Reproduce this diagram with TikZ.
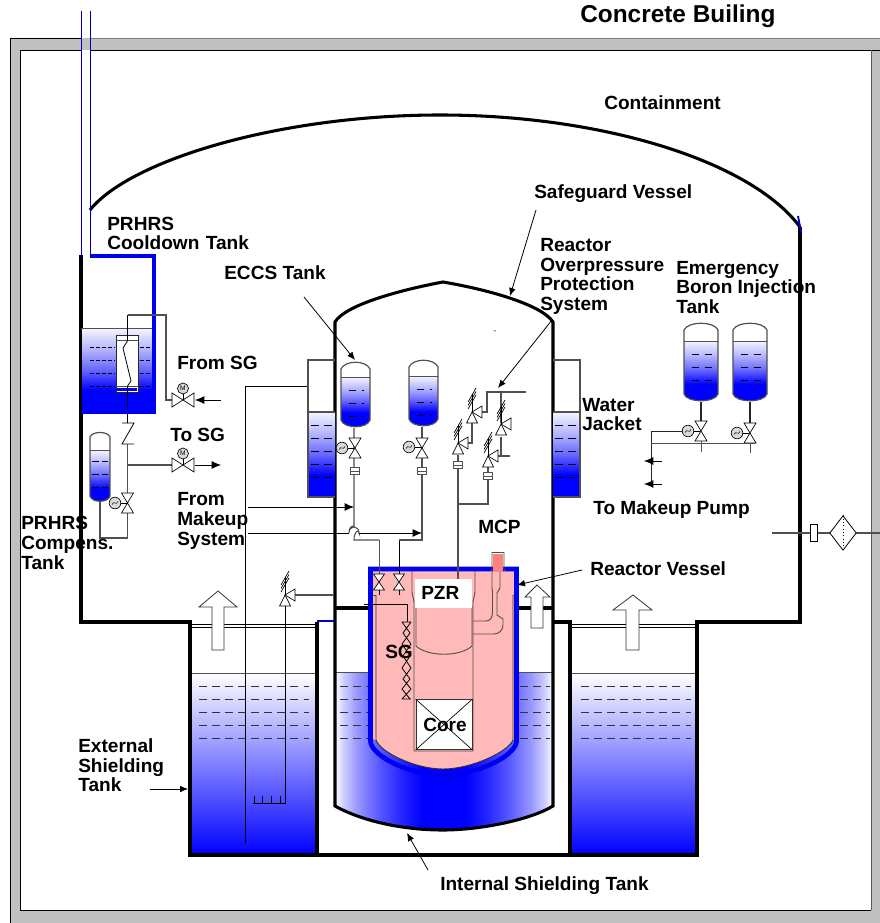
\documentclass[tikz,border=0pt]{standalone}
\usepackage{fontspec}
\setmainfont{Liberation Sans}
\usetikzlibrary{arrows.meta,shapes.geometric}
\definecolor{concrete}{HTML}{C0C0C0}
\definecolor{pinkcore}{HTML}{FFB9B9}
\definecolor{pumpred}{HTML}{FF8080}
\definecolor{linegray}{HTML}{505050}
\definecolor{pipeblue}{HTML}{0000F0}
\pgfdeclarehorizontalshading{poolwater}{100bp}{color(0bp)=(white); color(25bp)=(white); color(27bp)=(blue!20!white); color(30bp)=(blue!40!white); color(35bp)=(blue!65!white); color(40bp)=(blue!85!white); color(45bp)=(blue); color(55bp)=(blue); color(60bp)=(blue!85!white); color(65bp)=(blue!65!white); color(70bp)=(blue!40!white); color(73bp)=(blue!20!white); color(75bp)=(white); color(100bp)=(white)}
\pgfdeclareverticalshading{tankwater}{100bp}{color(0bp)=(blue); color(25bp)=(blue); color(38bp)=(blue); color(50bp)=(blue!60!white); color(62bp)=(blue!30!white); color(75bp)=(blue!4!white); color(100bp)=(white)}
\tikzset{
  wall/.style={line width=2.3pt,black},
  pipe/.style={line width=0.8pt,linegray},
  thin pipe/.style={line width=0.6pt,black},
  lbl/.style={font=\fontsize{14.3pt}{14.7pt}\selectfont\bfseries,anchor=west,inner sep=0pt,align=left},
  leader/.style={line width=0.6pt,-{Latex[length=6pt,width=5pt]}},
  flow/.style={line width=0.7pt,-{Latex[length=7pt,width=6pt]}},
  bigarrow/.style={draw=black!80,fill=white,line width=0.6pt},
  dashline/.style={line width=0.6pt,dash pattern=on 6pt off 3.8pt,black!80},
  vesselline/.style={line width=0.9pt,linegray},
  sym/.style={draw=black,fill=white,line width=0.5pt},
}
\tikzset{
  vvalvepic/.pic={
    \draw[sym] (-6,-10) -- (6,-10) -- (-6,10) -- (6,10) -- cycle;
  },
  smallvalvepic/.pic={
    \draw[sym] (-5.5,-8) -- (5.5,-8) -- (-5.5,8) -- (5.5,8) -- cycle;
    \draw[line width=0.5pt] (0,8) -- (0,13);
  },
  hvalvepic/.pic={
    \draw[sym] (-11,-7) -- (-11,7) -- (11,-7) -- (11,7) -- cycle;
    \draw[line width=0.5pt] (0,0) -- (0,-6);
    \draw[line width=0.5pt,fill=black!15] (0,-11.5) circle (5.5);
    \node[font=\fontsize{5pt}{5pt}\selectfont,inner sep=0pt] at (0,-11.5) {M};
  },
  actuatorpic/.pic={
    \draw[line width=0.5pt,fill=black!15] (0,0) circle (5.8);
    \draw[line width=0.4pt] (-3,1.5) .. controls (-1,-3) and (1,3) .. (3,-1.5);
    \draw[line width=0.5pt] (5.8,0) -- (12,0);
  },
  reliefpic/.pic={
    \draw[sym] (0,0) -- (-5.5,11) -- (5.5,11) -- cycle;
    \draw[sym] (0,0) -- (10,-6) -- (10,6) -- cycle;
    \draw[line width=0.5pt] (-4,-3) -- (4,-17) (-4,-6.5) -- (4,-20.5) (-4,-10) -- (4,-24);
    \draw[line width=0.5pt] (0,0) -- (0,-18);
  },
  flangepic/.pic={
    \draw[line width=0.6pt,fill=white,draw=linegray] (-4.5,-3.5) rectangle (4.5,3.5);
    \draw[line width=0.5pt,draw=linegray] (-4.5,0) -- (4.5,0);
  },
}
\newcommand{\storagetank}[5]{% xl xr ytop level ybot
  \begin{scope}
    \clip (#1,#3+8) .. controls (#1+4,#3-1) and (#2-4,#3-1) .. (#2,#3+8) -- (#2,#5-8) .. controls (#2-3,#5+1) and (#1+3,#5+1) .. (#1,#5-8) -- cycle;
    \shade[shading=tankwater] (#1-2,#4) rectangle (#2+2,#5-3);
  \end{scope}
  \draw[vesselline] (#1,#3+8) .. controls (#1+4,#3-1) and (#2-4,#3-1) .. (#2,#3+8) -- (#2,#5-8) .. controls (#2-3,#5+1) and (#1+3,#5+1) .. (#1,#5-8) -- cycle;
  \draw[line width=0.7pt,linegray] (#1,#4) -- (#2,#4);
  \foreach \dy in {13,26,39}{
    \draw[line width=0.6pt,black,dash pattern=on 5.5pt off 4pt] (#1+8,#4+\dy) -- (#2-6,#4+\dy);
  }
}
\begin{document}
\begin{tikzpicture}[x=0.75pt,y=-0.75pt]
\useasboundingbox (0,0) rectangle (880,923);
% ---------- concrete building
\fill[concrete,even odd rule] (10,38) rectangle (880,923) (20,50) rectangle (871,910);
\draw[line width=0.6pt,black] (81,38) -- (10,38) -- (10,923);
\draw[line width=0.6pt,black] (81,50) -- (20,50) -- (20,910) -- (871,910);
\draw[line width=0.6pt,black] (90,50) -- (880,50);
\draw[line width=0.7pt,black!65] (871,50) -- (871,910);
\draw[line width=0.5pt,black!50] (90,38) -- (880,38);
% ---------- internal shielding water (behind vessel)
\begin{scope}
  \clip (335,672) -- (553,672) -- (553,806) .. controls (530,820) and (480,830) .. (443,830) .. controls (400,830) and (360,820) .. (335,806) -- cycle;
  \shade[shading=poolwater] (335,672) rectangle (553,832);
\end{scope}
\foreach \yy in {686,699,712,725,738}{
  \draw[dashline] (340,\yy) -- (368,\yy);
  \draw[dashline] (520,\yy) -- (550,\yy);
}
\draw[line width=0.6pt,linegray] (335,672) -- (370,672) (517,672) -- (553,672);
% ---------- shielding tanks
\shade[top color=white,bottom color=blue] (191,673) rectangle (317,855);
\shade[top color=white,bottom color=blue] (570,673) rectangle (697,855);
\foreach \yy in {686,699,712,725,738}{
  \draw[dashline] (199,\yy) -- (309,\yy);
  \draw[dashline] (581,\yy) -- (691,\yy);
}
\draw[line width=0.6pt,linegray] (190,673) -- (317,673) (570,673) -- (697,673);
\draw[line width=0.6pt,black] (190,624) -- (317,624) (190,627) -- (317,627);
\draw[line width=0.6pt,black] (570,624) -- (697,624) (570,627) -- (697,627);
% ---------- containment
\draw[wall] (90,210) .. controls (130,160) and (280,115) .. (440,115) .. controls (600,115) and (750,160) .. (800,227);
\draw[wall] (800,227) -- (800,622) -- (697,622) -- (697,855) -- (190,855) -- (190,622) -- (81,622) -- (81,255);
\draw[wall] (317,855) -- (317,622);
\draw[wall] (570,855) -- (570,622) -- (553,622);
\draw[line width=1.4pt,blue!80!black] (317,621) -- (334,621);
\draw[line width=1.4pt,blue!80!black] (798,216) -- (801,232);
% ---------- safeguard vessel
\draw[wall] (335,608) -- (370,608) (517,608) -- (553,608);
\draw[wall] (335,322) .. controls (345,305) and (400,290) .. (443,282) .. controls (490,290) and (542,305) .. (553,322) -- (553,806) .. controls (530,820) and (480,830) .. (443,830) .. controls (400,830) and (360,820) .. (335,806) -- cycle;
% ---------- reactor vessel
\fill[pinkcore] (370,568) -- (517,568) -- (517,738) -- (513,740) .. controls (508,752) and (471,769) .. (443,769) .. controls (415,769) and (380,752) .. (376,740) -- (370,738) -- cycle;
\draw[line width=0.7pt,linegray] (376,595) -- (370,595);
\draw[line width=0.7pt,linegray] (513,595) -- (517,595);
\draw[line width=0.7pt,black!80] (376,595) -- (376,740) .. controls (380,752) and (415,769) .. (443,769) .. controls (471,769) and (508,752) .. (513,740) -- (513,595);
\draw[line width=3.5pt,pipeblue] (370.5,569) -- (516.5,569) -- (516.5,742) .. controls (514,757) and (476,775) .. (443,775) .. controls (410,775) and (373,757) .. (370.5,742) -- cycle;
% barrel
\draw[line width=0.7pt,linegray] (412,571) -- (412,592) -- (414,602) -- (414,751) -- (473,751) -- (473,602) -- (475,592) -- (475,571);
% core
\node[draw=black!80,fill=white,line width=0.7pt,minimum width=42pt,minimum height=37.5pt,inner sep=0pt] (coreb) at (444,724.5) {};
\draw[line width=0.5pt] (coreb.north west) -- (coreb.south east) (coreb.north east) -- (coreb.south west);
% PZR
\draw[line width=0.7pt,linegray] (416,606) -- (416,646) .. controls (428,657) and (460,657) .. (472,646) -- (472,606);
\node[fill=white,minimum width=43pt,minimum height=21.5pt,inner sep=0pt] (pzrbox) at (443.5,593.5) {};
\node[lbl] (pzrlab) at (421,593) {PZR};
\node[lbl] (corelab) at (423,725) {Core};
% SG
\draw[line width=0.6pt,black] (407,604) -- (364,604) (407,604) -- (407,622);
\draw[line width=0.6pt,black]
  (402,622) -- (411,622)
  (402,622) -- (410,633) -- (402,644) -- (410,656) -- (402,668) -- (410,679) -- (402,689) -- (410,699)
  (411,622) -- (403,633) -- (411,644) -- (403,656) -- (411,668) -- (403,679) -- (411,689) -- (402,699)
  (402,699) -- (411,699);
\node[lbl] (sglab) at (385,652) {SG};
% MCP pump
\fill[pumpred] (493,554) rectangle (503,572);
\draw[line width=0.7pt,linegray] (491,571) -- (492,570) -- (492,552.5) -- (504,552.5) -- (504,570) -- (506,571);
\draw[line width=0.7pt,linegray] (492,572) -- (492,588) -- (492.5,593) -- (492.5,612) .. controls (492.5,618) and (490,621) .. (486,621) -- (473,621);
\draw[line width=0.7pt,linegray] (500,572) -- (500,588) -- (497,593) -- (497,615) -- (503,619) -- (503,625) .. controls (503,630) and (499,634) .. (494,634) -- (473,634);
% pipes into RV
\draw[thin pipe,linegray] (379,540) -- (379,574);
\draw[thin pipe] (399,540) -- (399,574);
\pic at (379,582) {smallvalvepic};
\pic at (399,582) {smallvalvepic};
% little containment arrows
\draw[bigarrow] (218,591) -- (237,607) -- (224,607) -- (224,650) -- (212,650) -- (212,607) -- (199,607) -- cycle;
\draw[bigarrow] (633,595) -- (652,610) -- (639,610) -- (639,650) -- (626,650) -- (626,610) -- (613,610) -- cycle;
\draw[bigarrow] (537,585) -- (550,597) -- (543,597) -- (543,628) -- (531,628) -- (531,597) -- (525,597) -- cycle;
% relief + sparger
\draw[thin pipe] (245,843) -- (245,386) -- (308,386);
\draw[thin pipe] (285,605) -- (285,803) -- (253,803);
\foreach \xx in {254,262,271,280}{\draw[thin pipe] (\xx,803) -- (\xx,796);}
\draw[pipe] (295,595) -- (334,595);
\pic at (285,595) {reliefpic};
% ---------- water jackets
\shade[shading=tankwater] (308,412) rectangle (335,497);
\shade[shading=tankwater] (553,412) rectangle (580,497);
\foreach \yy in {425,438,451,464,477}{
  \draw[line width=0.6pt,black,dash pattern=on 6pt off 4pt] (311,\yy) -- (333,\yy);
  \draw[line width=0.6pt,black,dash pattern=on 6pt off 4pt] (555,\yy) -- (578,\yy);
}
\draw[pipe] (335,360) -- (308,360) -- (308,497) -- (335,497);
\draw[pipe] (553,360) -- (580,360) -- (580,497) -- (553,497);
\draw[pipe] (308,412) -- (335,412) (553,412) -- (580,412);
% ---------- ECCS
\storagetank{341}{370}{361}{377}{428}
\storagetank{409}{438}{359}{376}{427}
\draw[pipe] (354,428) -- (354,526) .. controls (350,526) and (349,529) .. (349,533) .. controls (349,525) and (359,525) .. (359,533) .. controls (359,529) and (354,531) .. (354,540) -- (379,540);
\draw[pipe] (422,427) -- (422,540) -- (399,540);
\pic at (355,448) {vvalvepic};
\pic at (422,448) {vvalvepic};
\pic at (342,448) {actuatorpic};
\pic at (409,447) {actuatorpic};
\pic at (355,471) {flangepic};
\pic at (422,471) {flangepic};
\coordinate (mkA) at (248,507);
\coordinate (mkB) at (248,533);
\coordinate (mkAend) at (354,507);
\coordinate (mkBend) at (422,533);
\draw[flow] (mkA) -- (mkAend);
\draw[line width=0.7pt] (mkB) -- (349,533);
\draw[flow] (359,533) -- (mkBend);
% ---------- reactor overpressure
\draw[pipe] (458,579) -- (458,455);
\draw[pipe] (458,504) -- (488,504) -- (488,467);
\draw[pipe] (467,443) -- (472,443) -- (472,423);
\draw[pipe] (481,412) -- (487,412) -- (487,392) -- (526,392);
\draw[pipe] (501,392) -- (501,423);
\draw[pipe] (510,456) -- (488,456);
\draw[pipe] (501,437) -- (501,456);
\pic at (458,443) {reliefpic};
\pic at (472,412) {reliefpic};
\pic at (501,424) {reliefpic};
\pic at (488,456) {reliefpic};
\pic at (458,465) {flangepic};
\pic at (488,476) {flangepic};
% ---------- PRHRS cooldown tank
\shade[shading=tankwater] (82,328) rectangle (154,412);
\draw[line width=0.7pt,linegray] (81,328) -- (154,328);
\foreach \yy in {347,360,373,386}{
  \draw[line width=0.6pt,black,dash pattern=on 3pt off 1.5pt] (90,\yy) -- (115,\yy);
  \draw[line width=0.6pt,black,dash pattern=on 3pt off 1.5pt] (140,\yy) -- (152,\yy);
}
\draw[line width=0.7pt,black!85,fill=white] (116,335) rectangle (138,392);
\draw[line width=0.5pt,black!70] (116,340) -- (138,340) (116,386) -- (138,386);
\fill[blue] (117,388) rectangle (137,391);
\draw[thin pipe] (127.5,315) -- (127.5,341) -- (123,348) -- (131,381) -- (127.5,386) -- (127.5,423);
\draw[line width=2.6pt,pipeblue] (90,256) -- (154,256) -- (154,412) -- (82,412);
\draw[line width=0.8pt,blue!70!black] (81.5,11) -- (81.5,258) (90.5,11) -- (90.5,258);
\draw[pipe] (127.5,315) -- (166,315) -- (166,400) -- (172,400);
\pic at (183,400) {hvalvepic};
\coordinate (fromsgA) at (221,400);
\coordinate (fromsgB) at (195,400);
\draw[flow] (fromsgA) -- (fromsgB);
% check valve
\draw[line width=0.6pt,black] (122,423) -- (134,423) -- (122,444) -- (134,444);
\draw[pipe] (127.5,444) -- (127.5,493);
\draw[pipe] (127.5,513) -- (127.5,538) -- (100,538) -- (100,502);
\draw[pipe] (127.5,465) -- (172,465);
\pic at (183,465) {hvalvepic};
\coordinate (tosgA) at (195,465);
\coordinate (tosgB) at (221,465);
\draw[flow] (tosgA) -- (tosgB);
% compensation tank
\begin{scope}
  \clip (90,437) .. controls (92,431) and (108,431) .. (110,437) -- (110,496) .. controls (108,503) and (92,503) .. (90,496) -- cycle;
  \shade[shading=tankwater] (88,450) rectangle (112,502);
\end{scope}
\draw[vesselline] (90,437) .. controls (92,431) and (108,431) .. (110,437) -- (110,496) .. controls (108,503) and (92,503) .. (90,496) -- cycle;
\draw[line width=0.7pt,linegray] (90,450) -- (110,450);
\foreach \yy in {461,474,487}{\draw[line width=0.6pt,black,dash pattern=on 5pt off 2.5pt] (92,\yy) -- (108,\yy);}
\pic at (127.5,503) {vvalvepic};
\pic at (115,503) {actuatorpic};
% ---------- emergency boron tanks
\storagetank{684}{718}{322}{341}{402}
\storagetank{733}{767}{322}{341}{402}
\draw[line width=0.9pt,black!85] (701,402) -- (701,421) (750,402) -- (750,423);
\pic at (701,431) {vvalvepic};
\pic at (750,433) {vvalvepic};
\pic at (688,431) {actuatorpic};
\pic at (737,433) {actuatorpic};
\draw[line width=0.7pt,black!85] (683,431) -- (651,431) -- (651,486);
\draw[line width=0.7pt,linegray] (651,443) -- (755,443) (701,441) -- (701,452) (750,443) -- (750,453);
\coordinate (ebiA) at (662,461);
\coordinate (ebiB) at (644,461);
\coordinate (ebiC) at (662,484);
\coordinate (ebiD) at (644,484);
\draw[flow] (ebiA) -- (ebiB);
\draw[flow] (ebiC) -- (ebiD);
% ---------- right penetration
\draw[pipe] (772,533) -- (880,533);
\node[draw=black,fill=white,line width=0.6pt,minimum width=5.2pt,minimum height=12.5pt,inner sep=0pt] (flg) at (813.5,533) {};
\node[draw=black,fill=white,line width=0.6pt,diamond,aspect=0.76,minimum width=20pt,minimum height=26pt,inner sep=0pt] (filt) at (843,533) {};
\draw[line width=0.5pt,dotted] (filt.north) -- (filt.south);
% ---------- labels
\node[lbl,font=\fontsize{18.3pt}{18.3pt}\selectfont\bfseries] (bld) at (580,16) {Concrete Builing};
\node[lbl] (cont) at (604,102.5) {Containment};
\node[lbl] (sgv) at (534,194) {Safeguard Vessel};
\node[lbl,text width=170pt] (prh) at (107,233.5) {PRHRS\\Cooldown Tank};
\node[lbl] (eccs) at (224,273) {ECCS Tank};
\node[lbl] (rops) at (540,276.5) {Reactor\\Overpressure\\Protection\\System};
\node[lbl] (ebt) at (676,287.5) {Emergency\\Boron Injection\\Tank};
\node[lbl] (fsg) at (177,363) {From SG};
\node[lbl] (tsg) at (170,435) {To SG};
\node[lbl] (fms) at (177,521) {From\\Makeup\\System};
\node[lbl] (pct) at (21,543) {PRHRS\\Compens.\\Tank};
\node[lbl] (est) at (78,765.5) {External\\Shielding\\Tank};
\node[lbl] (wj) at (582,414.5) {Water\\Jacket};
\node[lbl] (tmp) at (593,510) {To Makeup Pump};
\node[lbl] (mcp) at (478,527) {MCP};
\node[lbl] (rv) at (590,569) {Reactor Vessel};
\node[lbl] (ist) at (440,886) {Internal Shielding Tank};
\node[font=\fontsize{6pt}{6pt}\selectfont,inner sep=0pt] (dash) at (495,332) {-};
% ---------- leaders
\coordinate (eccsA) at (304,297);
\coordinate (eccsB) at (355,360);
\coordinate (sgA) at (536,210);
\coordinate (sgB) at (510,296);
\coordinate (ropA) at (552,320);
\coordinate (ropB) at (498,388);
\coordinate (rvA) at (582,570);
\coordinate (rvB) at (517,585);
\coordinate (istA) at (428,870);
\coordinate (istB) at (407,833);
\coordinate (estA) at (150,789);
\coordinate (estB) at (188,789);
\draw[leader] (eccsA) -- (eccsB);
\draw[leader] (sgA) -- (sgB);
\draw[leader] (ropA) -- (ropB);
\draw[leader] (rvA) -- (rvB);
\draw[leader] (istA) -- (istB);
\draw[leader] (estA) -- (estB);
\end{tikzpicture}
\end{document}
